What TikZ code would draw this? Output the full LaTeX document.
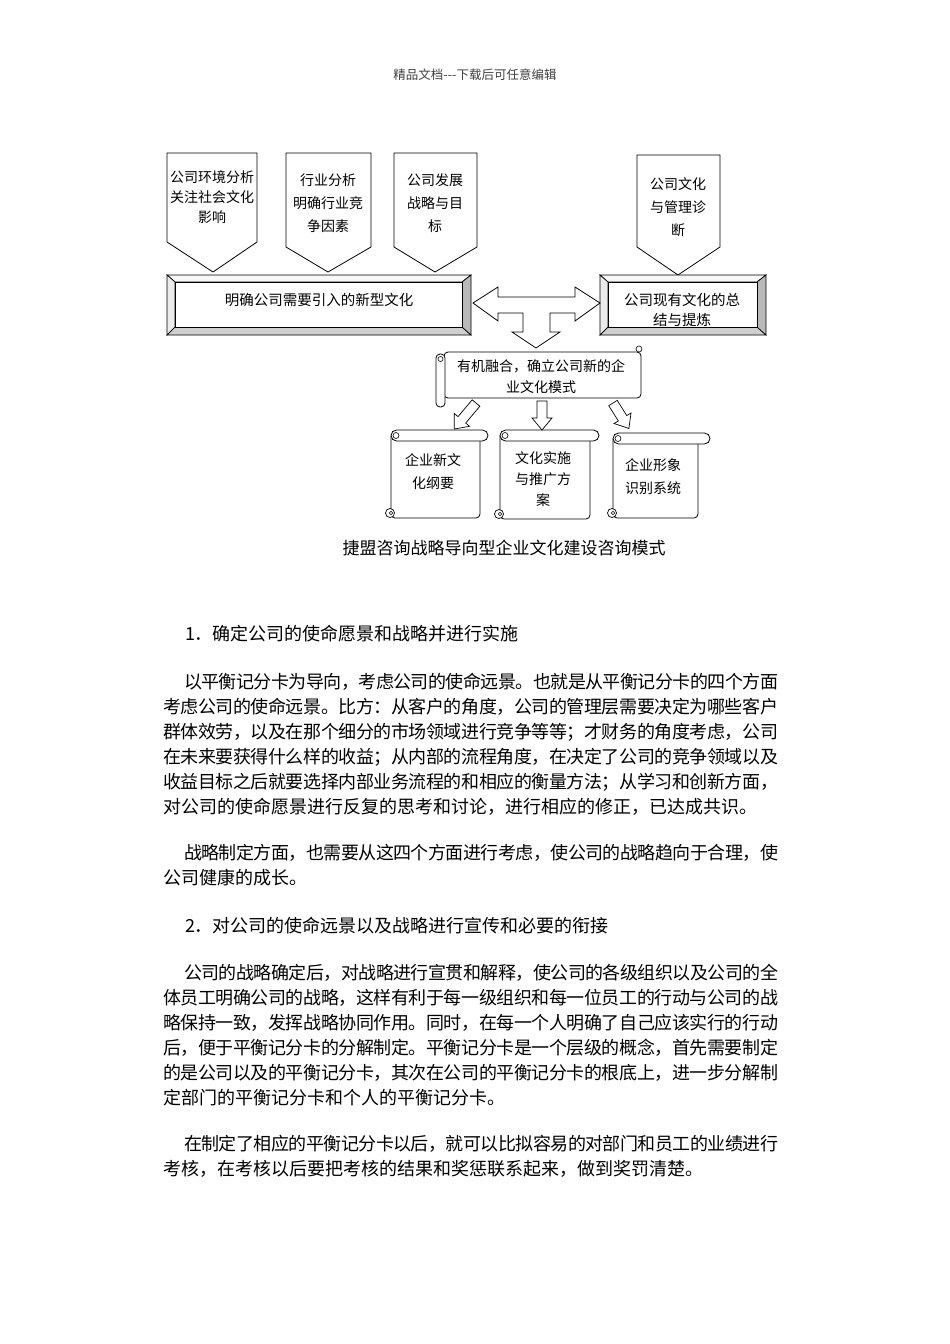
\documentclass[tikz,border=0pt]{standalone}
\usepackage{fontspec}
\setmainfont{Noto Sans CJK SC}
\usetikzlibrary{positioning,backgrounds}

% spread the characters of one line over a fixed width
\makeatletter
\def\jl@end{\jl@end}
\def\jl@loop#1{\ifx#1\jl@end\unskip\else#1\hskip0pt plus 1fil minus 1pt\relax\expandafter\jl@loop\fi}
\newcommand\jline[2]{\hbox to #1{\expandafter\jl@loop#2\jl@end}}
\makeatother

\begin{document}
\begin{tikzpicture}[
        x=1pt, y=-1pt,
        every node/.style={inner sep=0pt, outer sep=0pt},
        outline/.style={
            draw=black,
            fill=white,
            line width=0.8pt,
            line join=miter
        },
        boxtext/.style={
            align=center,
            font=\fontsize{14}{23}\selectfont
        },
        bevel/.style={
            minimum width=#1,
            minimum height=60pt
        },
        bevtop/.style={fill=gray!6, draw=black, line width=0.7pt},
        bevleft/.style={fill=gray!16, draw=black, line width=0.7pt},
        bevbottom/.style={fill=gray!38, draw=black, line width=0.7pt},
        bevright/.style={fill=gray!55, draw=black, line width=0.7pt},
        blockarrow/.style={outline, line width=0.7pt},
        bodyline/.style={
            anchor=base west,
            font=\fontsize{18}{25}\selectfont
        }
    ]

    \useasboundingbox (0,0) rectangle (950,1344);
    \fill[white] (0,0) rectangle (950,1344);

    \node[font=\fontsize{12.5}{15}\selectfont, text=black!75] (header) at (475,75)
        {精品文档-\kern0pt-\kern0pt-下载后可任意编辑};

    % input boxes pointing down
    \draw[outline] (167,153) -- (257,153) -- (257,242) -- (213,272) -- (167,242) -- cycle;
    \draw[outline] (286,153) -- (371,153) -- (371,247) -- (328,272) -- (286,247) -- cycle;
    \draw[outline] (394,153) -- (477,153) -- (477,247) -- (435,272) -- (394,247) -- cycle;
    \draw[outline] (637,155) -- (720,155) -- (720,247) -- (678,275) -- (637,247) -- cycle;

    \node[boxtext, font=\fontsize{14}{20}\selectfont] (envir) at (212,197) {公司环境分析\\关注社会文化\\影响};
    \node[boxtext] (industry) at (328,203) {行业分析\\明确行业竞\\争因素};
    \node[boxtext] (goals) at (435,203) {公司发展\\战略与目\\标};
    \node[boxtext] (diagnose) at (678,207) {公司文化\\与管理诊\\断};

    % bevelled frames
    \node[bevel=304pt] (newcult) at (319,305) {};
    \node[bevel=166pt] (curcult) at (683,305) {};
    \foreach \b in {newcult,curcult} {
        \draw[bevtop] (\b.north west) -- (\b.north east) -- ([shift={(-9,7)}]\b.north east) -- ([shift={(8,7)}]\b.north west) -- cycle;
        \draw[bevleft] (\b.north west) -- ([shift={(8,7)}]\b.north west) -- ([shift={(8,-8)}]\b.south west) -- (\b.south west) -- cycle;
        \draw[bevbottom] (\b.south west) -- ([shift={(8,-8)}]\b.south west) -- ([shift={(-9,-8)}]\b.south east) -- (\b.south east) -- cycle;
        \draw[bevright] (\b.north east) -- (\b.south east) -- ([shift={(-9,-8)}]\b.south east) -- ([shift={(-9,7)}]\b.north east) -- cycle;
        \draw[outline, line width=0.7pt] ([shift={(8,7)}]\b.north west) rectangle ([shift={(-9,-8)}]\b.south east);
    }
    \node[boxtext, font=\fontsize{14.5}{20}\selectfont] (newculttext) at (319,300) {明确公司需要引入的新型文化};
    \node[boxtext, font=\fontsize{14.5}{20}\selectfont] (curculttext) at (682,310) {公司现有文化的总\\结与提炼};

    % two-way arrow with branch down
    \draw[outline] (newcult.east) ++(2,-2) -- (498,287) -- (498,297) -- (575,297) -- (575,287)
        -- ([shift={(0,-2)}]curcult.west) -- (575,321) -- (575,313) -- (550,313) -- (550,332)
        -- (560,332) -- (536,348) -- (512,332) -- (523,332) -- (523,313) -- (498,313) -- (498,321) -- cycle;

    % merged model scroll
    \draw[outline, rounded corners=4pt] (444,352) rectangle (641,398);
    \draw[outline, rounded corners=4pt] (436,354) rectangle (445,407);
    \draw[line width=0.6pt] (440.5,359) circle (2.5);
    \draw[outline, line width=0.6pt] (639,349) circle (3);
    \node[boxtext, font=\fontsize{14}{21}\selectfont] (merge) at (541,377) {有机融合，确立公司新的企\\业文化模式};

    % output scrolls
    \foreach \xl/\xr/\xe/\yt/\yb in {391/480/488/430/518, 500/590/599/430/519, 613/698/710/433/518} {
        \draw[outline, rounded corners=4pt] (\xl,\yt+6) -- (\xl,\yb) -- (\xr,\yb) -- (\xr,\yt+6);
        \draw[outline, rounded corners=5.5pt] (\xl,\yt) rectangle (\xe,\yt+11);
        \draw[line width=0.6pt] (\xl+5,\yt+5.5) circle (3);
        \draw[outline, line width=0.7pt] (\xl-1,\yb-5) circle (4.5);
        \draw[line width=0.6pt] (\xl,\yb-5) circle (1.8);
    }
    \node[boxtext] (newplan) at (433,472) {企业新文\\化纲要};
    \node[boxtext, font=\fontsize{14}{21}\selectfont] (rollout) at (543,479) {文化实施\\与推广方\\案};
    \node[boxtext] (identity) at (653,477) {企业形象\\识别系统};

    \foreach \x/\y/\a/\l in {476/403/-40/34, 542/401/0/29, 613/403/32/30}
        \draw[blockarrow, shift={(\x,\y)}, rotate=\a] (-5,0) -- (5,0) -- (5,\l-12) -- (10,\l-12) -- (0,\l) -- (-10,\l-12) -- (-5,\l-12) -- cycle;

    \node[font=\fontsize{17}{20}\selectfont] (caption) at (504,548) {捷盟咨询战略导向型企业文化建设咨询模式};

    % body text, one node per printed line
    \node[bodyline] (sec1) at (185,640) {1．确定公司的使命愿景和战略并进行实施};

    \node[bodyline] (vision0) at (184,688) {\jline{594pt}{以平衡记分卡为导向，考虑公司的使命远景。也就是从平衡记分卡的四个方面}};
    \foreach \t [count=\i] in {
        考虑公司的使命远景。比方：从客户的角度，公司的管理层需要决定为哪些客户,
        群体效劳，以及在那个细分的市场领域进行竞争等等；才财务的角度考虑，公司,
        在未来要获得什么样的收益；从内部的流程角度，在决定了公司的竞争领域以及,
        收益目标之后就要选择内部业务流程的和相应的衡量方法；从学习和创新方面，}
        \node[bodyline] (vision\i) at (163,688+25*\i) {\jline{615pt}{\t}};
    \node[bodyline] (vision5) at (163,813) {对公司的使命愿景进行反复的思考和讨论，进行相应的修正，已达成共识。};

    \node[bodyline] (strategy0) at (184,859) {\jline{594pt}{战略制定方面，也需要从这四个方面进行考虑，使公司的战略趋向于合理，使}};
    \node[bodyline] (strategy1) at (163,884) {公司健康的成长。};

    \node[bodyline] (sec2) at (185,932) {2．对公司的使命远景以及战略进行宣传和必要的衔接};

    \node[bodyline] (publicize0) at (184,979) {\jline{594pt}{公司的战略确定后，对战略进行宣贯和解释，使公司的各级组织以及公司的全}};
    \foreach \t [count=\i] in {
        体员工明确公司的战略，这样有利于每一级组织和每一位员工的行动与公司的战,
        略保持一致，发挥战略协同作用。同时，在每一个人明确了自己应该实行的行动,
        后，便于平衡记分卡的分解制定。平衡记分卡是一个层级的概念，首先需要制定,
        的是公司以及的平衡记分卡，其次在公司的平衡记分卡的根底上，进一步分解制}
        \node[bodyline] (publicize\i) at (163,979+25*\i) {\jline{615pt}{\t}};
    \node[bodyline] (publicize5) at (163,1104) {定部门的平衡记分卡和个人的平衡记分卡。};

    \node[bodyline] (appraise0) at (184,1150) {\jline{594pt}{在制定了相应的平衡记分卡以后，就可以比拟容易的对部门和员工的业绩进行}};
    \node[bodyline] (appraise1) at (163,1175) {考核，在考核以后要把考核的结果和奖惩联系起来，做到奖罚清楚。};

\end{tikzpicture}
\end{document}
